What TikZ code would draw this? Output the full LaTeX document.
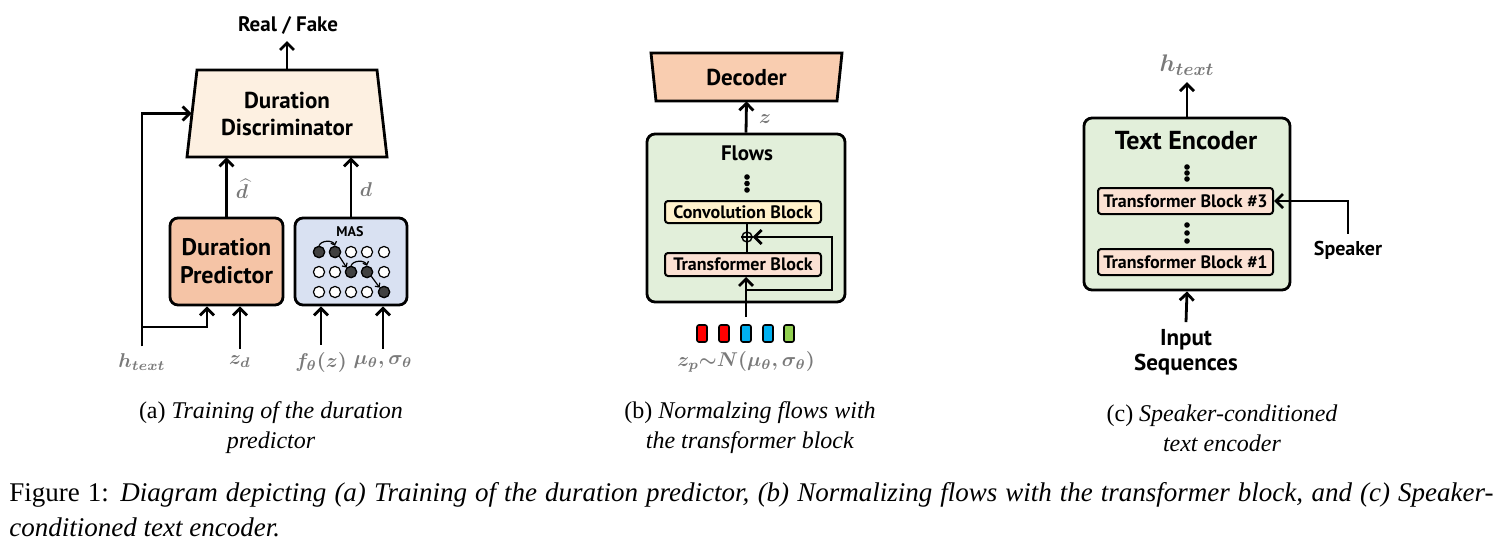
\documentclass[tikz,border=0pt]{standalone}
\usepackage{amsmath}
\usepackage{bm}
\usepackage{fontspec}
\setmainfont{Liberation Serif}
\newfontfamily\boxfont{PT Sans}
\usetikzlibrary{arrows.meta,positioning,calc}

\definecolor{discfill}{HTML}{FDF0E1}
\definecolor{predfill}{HTML}{F5C4A6}
\definecolor{masfill}{HTML}{D9E1F2}
\definecolor{decfill}{HTML}{F9CDB0}
\definecolor{flowfill}{HTML}{E2EFDA}
\definecolor{convfill}{HTML}{FFF2CC}
\definecolor{tffill}{HTML}{FBE1D3}
\definecolor{mathgray}{HTML}{7A7A7A}
\definecolor{dotgray}{HTML}{404040}
\definecolor{blockred}{HTML}{FF0000}
\definecolor{blockblue}{HTML}{00B0F0}
\definecolor{blockgreen}{HTML}{92D050}

\tikzset{
  box/.style={draw, line width=1.4pt, rounded corners=4pt, align=center,
    font=\boxfont\bfseries\fontsize{12}{13}\selectfont},
  blockbox/.style={draw, line width=1pt, rounded corners=1.5pt, inner sep=0pt,
    font=\boxfont\bfseries\fontsize{9}{10}\selectfont},
  boxlabel/.style={font=\boxfont\bfseries\fontsize{#1}{#1}\selectfont, align=center},
  arr/.style={line width=1.4pt, -{Straight Barb[length=3.5pt,width=7pt]}},
  mathlabel/.style={text=mathgray, font=\boldmath\fontsize{10}{12}\selectfont},
  masdot/.style={circle, draw, line width=0.6pt, fill=white, minimum size=5.6pt, inner sep=0pt},
  captext/.style={font=\fontsize{12}{15}\selectfont, align=center},
}

\begin{document}
\begin{tikzpicture}[x=0.5pt, y=-0.5pt]
\useasboundingbox (0,0) rectangle (1503,556);

% (a) Duration discriminator
\draw[line width=1.4pt, fill=discfill] (197,70) -- (377,70) -- (387,157) -- (187,157) -- cycle;
\node[boxlabel=11.5, minimum width=95pt, minimum height=43.5pt] (disc) at (287,113.5) {Duration\\[2pt]Discriminator};
\node[boxlabel=10.5] (rf) at (288,25) {Real / Fake};
\draw[arr] (disc.north) -- (disc.north |- rf.south);

\node[box, fill=predfill, minimum width=56.5pt, minimum height=43.5pt] (dp) at (226.5,261.5) {Duration\\[1pt]Predictor};
\node[box, fill=masfill, minimum width=56pt, minimum height=43.5pt] (mas) at (351,261.5) {};
\node[boxlabel=7] (maslabel) at (350,232) {MAS};

% alignment grid
\foreach \r/\y in {1/252,2/272,3/292}
  \foreach \c/\x in {1/319,2/335,3/351,4/367,5/384}
    \node[masdot] (c\r\c) at (\x,\y) {};
\foreach \n in {c11,c12,c23,c24,c35}
  \node[masdot, fill=dotgray] at (\n) {};
\draw[line width=0.6pt, -{Straight Barb[length=1.5pt,width=3pt]}] (c11.north) to[bend left=70] (c12.north);
\draw[line width=0.6pt, -{Straight Barb[length=1.5pt,width=3pt]}] (c12.south east) -- (c23.north west);
\draw[line width=0.6pt, -{Straight Barb[length=1.5pt,width=3pt]}] (c23.north) to[bend left=70] (c24.north);
\draw[line width=0.6pt, -{Straight Barb[length=1.5pt,width=3pt]}] (c24.south east) -- (c35.north west);

% inputs
\node[mathlabel] (ht) at (142,362) {$\bm{h_{text}}$};
\node[mathlabel] (zd) at (240,362) {$\bm{z_d}$};
\node[mathlabel] (fz) at (321,362) {$\bm{f_\theta}(z)$};
\node[mathlabel] (ms) at (383,362) {$\bm{\mu_\theta,\sigma_\theta}$};
\draw[arr] (ht.north) |- (disc.west);
\coordinate (hsplit) at (142,327);
\draw[arr] (hsplit) -| ($(dp.south)+(-19.5,0)$);
\draw[arr] (zd.north) -- (zd.north |- dp.south);
\draw[arr] (fz.north) -- (fz.north |- mas.south);
\draw[arr] (ms.north) -- (ms.north |- mas.south);

\draw[arr] (dp.north) -- (dp.north |- disc.south);
\draw[arr] (mas.north) -- (mas.north |- disc.south);
\node[mathlabel, inner sep=1pt] (dhat) at (242,189) {$\bm{\widehat{d}}$};
\node[mathlabel, inner sep=1pt] (dlab) at (366,190) {$\bm{d}$};

% (b) Flows and decoder
\draw[line width=1.4pt, fill=decfill] (651,53) -- (842,53) -- (837,101) -- (656,101) -- cycle;
\node[boxlabel=11.5, minimum width=93pt, minimum height=24pt] (dec) at (746.5,77) {Decoder};

\node[box, fill=flowfill, minimum width=99pt, minimum height=84pt] (flows) at (746,218) {};
\node[boxlabel=10.5] (flowlabel) at (747,153) {Flows};
\foreach \y in {177,183.5,190}
  \fill (747,\y) circle (1.4pt);
\node[blockbox, fill=convfill, minimum width=78pt, minimum height=11pt] (conv) at (743,212) {Convolution Block};
\node[circle, draw, line width=0.7pt, minimum size=5pt, inner sep=0pt] (plus) at (747,237) {};
\draw[line width=0.7pt] (plus.north) -- (plus.south) (plus.west) -- (plus.east);
\node[blockbox, fill=tffill, minimum width=78pt, minimum height=11.5pt] (tf) at (743,264.5) {Transformer Block};
\draw[line width=1.2pt] (conv.south -| plus) -- (plus.north);
\draw[line width=1.2pt] (plus.south) -- (plus |- tf.north);

% latent tokens
\foreach \i/\x/\col in {1/702/blockred,2/724/blockred,3/746/blockblue,4/768/blockblue,5/789/blockgreen}
  \node[draw, fill=\col, line width=0.8pt, rounded corners=1pt, minimum width=5pt, minimum height=8.5pt, inner sep=0pt] (b\i) at (\x,333.5) {};
\node[mathlabel] (zp) at (746,362) {$\bm{z_p{\sim}N(\mu_\theta,\sigma_\theta)}$};

\draw[arr, shorten <=3.5pt] (b3.north) -- (b3.north |- tf.south);
\coordinate (skip) at (746,290);
\coordinate (skipturn) at (832,290);
\draw[arr] (skip) -- (skipturn) |- (plus.east);
\draw[arr] (flows.north) -- (dec.south);
\node[mathlabel] (zlab) at (765,119) {$\bm{z}$};

% (c) Text encoder
\node[box, fill=flowfill, minimum width=103pt, minimum height=86pt] (te) at (1187,204) {};
\node[boxlabel=13] (telabel) at (1186,141) {Text Encoder};
\foreach \y in {167,173,179,225,233,241}
  \fill (1187,\y) circle (1.4pt);
\node[blockbox, fill=tffill, minimum width=87.5pt, minimum height=13pt] (tb3) at (1185.5,201) {Transformer Block \#3};
\node[blockbox, fill=tffill, minimum width=87.5pt, minimum height=13pt] (tb1) at (1185.5,262) {Transformer Block \#1};

\node[mathlabel, font=\boldmath\fontsize{13}{15}\selectfont] (hout) at (1187,65) {$\bm{h_{text}}$};
\draw[arr] (te.north) -- (hout.south);
\node[boxlabel=10] (spk) at (1348,250) {Speaker};
\draw[arr] (spk.north) |- (tb3.east);
\node[boxlabel=11.5] (inp) at (1186,352) {Input\\[1pt]Sequences};
\draw[arr] (inp.north) -- (te.south);

% captions
\node[captext] (capa) at (271,428) {(a) \textit{Training of the duration}\\\textit{predictor}};
\node[captext] (capb) at (750,428) {(b) \textit{Normalzing flows with}\\\textit{the transformer block}};
\node[captext] (capc) at (1222,428) {(c) \textit{Speaker-conditioned}\\\textit{text encoder}};
\node[anchor=north west, inner sep=0pt, text width=742pt, align=justify,
  font=\fontsize{13.5}{17.5}\selectfont] (figcap) at (9,482)
  {Figure 1: \textit{Diagram depicting (a) Training of the duration predictor, (b) Normalizing flows with the transformer block, and (c) Speaker-\linebreak conditioned text encoder.}};
\end{tikzpicture}
\end{document}
